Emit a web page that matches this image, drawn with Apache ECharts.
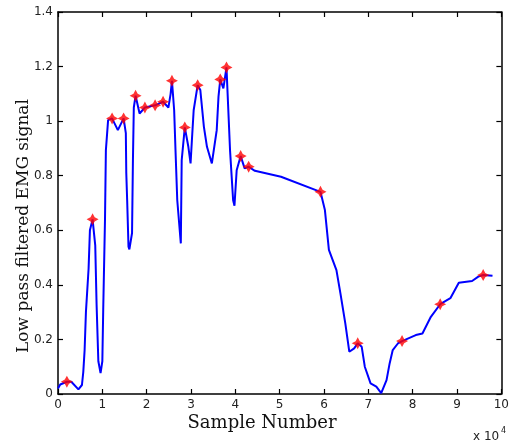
<!DOCTYPE html>
<html>
<head>
<meta charset="utf-8">
<script src="https://cdn.jsdelivr.net/npm/echarts@6/dist/echarts.min.js"></script>
<style>html,body{margin:0;padding:0;background:#fff}#c{width:512px;height:441px}</style>
</head>
<body>
<div id="c"></div>
<script>
var sampleX = [0,0.05,0.2,0.3,0.46,0.54,0.57,0.6,0.63,0.69,0.72,0.78,0.84,0.87,0.91,0.96,1.0,1.02,1.06,1.08,1.13,1.22,1.35,1.48,1.53,1.54,1.56,1.59,1.61,1.67,1.69,1.71,1.75,1.84,1.96,2.19,2.37,2.49,2.54,2.57,2.62,2.65,2.69,2.77,2.79,2.86,2.94,2.99,3.02,3.06,3.15,3.21,3.29,3.36,3.47,3.58,3.62,3.66,3.73,3.80,3.88,3.95,3.98,4.03,4.12,4.21,4.30,4.44,5.03,5.92,6.02,6.11,6.28,6.37,6.48,6.57,6.68,6.76,6.85,6.92,7.05,7.18,7.29,7.41,7.48,7.55,7.67,7.76,8.07,8.22,8.41,8.62,8.85,9.04,9.34,9.48,9.59,9.80];
var signalY = [0.02,0.035,0.045,0.045,0.017,0.033,0.08,0.16,0.30,0.46,0.60,0.64,0.545,0.33,0.12,0.077,0.12,0.31,0.64,0.894,1.004,1.01,0.967,1.01,0.956,0.81,0.71,0.54,0.53,0.59,0.857,1.05,1.093,1.028,1.05,1.058,1.071,1.05,1.10,1.148,1.04,0.894,0.71,0.552,0.857,0.977,0.906,0.845,0.93,1.04,1.132,1.114,0.98,0.906,0.845,0.967,1.09,1.153,1.12,1.197,0.894,0.71,0.69,0.82,0.872,0.827,0.833,0.818,0.796,0.741,0.674,0.528,0.454,0.369,0.259,0.155,0.167,0.186,0.173,0.10,0.039,0.027,0.003,0.051,0.112,0.161,0.186,0.194,0.216,0.222,0.283,0.329,0.351,0.408,0.414,0.43,0.436,0.433];
var peakX = [0.2,0.78,1.22,1.48,1.75,1.96,2.19,2.37,2.57,2.86,3.15,3.66,3.80,4.12,4.30,5.92,6.76,7.76,8.62,9.59];
var peakY = [0.045,0.64,1.01,1.01,1.093,1.05,1.058,1.071,1.148,0.977,1.132,1.153,1.197,0.872,0.833,0.741,0.186,0.194,0.329,0.436];
var xTitle = 'Sample Number';
var yTitle = 'Low pass filtered EMG signal';

var lineData = sampleX.map(function(x,i){return [x, signalY[i]];});
var peakData = peakX.map(function(x,i){return [x, peakY[i]];});

var chart = echarts.init(document.getElementById('c'));
var axisLine = {show:true, onZero:false, lineStyle:{color:'#000', width:1.5}};
var tick = {show:true, inside:true, length:5, lineStyle:{color:'#000', width:1.2}};
var lbl = {color:'#222', fontFamily:'DejaVu Sans', fontSize:12};
var serif = 'DejaVu Serif';
chart.setOption({
  animation:false,
  grid:{left:58, right:5, top:12, bottom:47},
  xAxis:[
    {type:'value', min:0, max:10, interval:1, position:'bottom',
     axisLine:axisLine, axisTick:tick, splitLine:{show:false},
     axisLabel:Object.assign({margin:5}, lbl)},
    {type:'value', min:0, max:10, interval:1, position:'top',
     axisLine:axisLine, axisTick:tick, splitLine:{show:false}, axisLabel:{show:false}}
  ],
  yAxis:[
    {type:'value', min:0, max:1.4, interval:0.2, position:'left',
     axisLine:axisLine, axisTick:tick, splitLine:{show:false},
     axisLabel:Object.assign({margin:5, formatter:function(v){return v===0?'0':(Math.round(v*10)/10).toString();}}, lbl)},
    {type:'value', min:0, max:1.4, interval:0.2, position:'right',
     axisLine:axisLine, axisTick:tick, splitLine:{show:false}, axisLabel:{show:false}}
  ],
  graphic:[
    {type:'text', x:262, y:423, style:{text:xTitle, fontSize:18, fontFamily:serif, fill:'#111', textAlign:'center', textVerticalAlign:'middle'}},
    {type:'text', x:24, y:226, rotation:Math.PI/2, style:{text:yTitle, fontSize:17, fontFamily:serif, fill:'#111', textAlign:'center', textVerticalAlign:'middle'}},
    {type:'text', x:473, y:431, style:{text:'x 10', fontSize:12, fontFamily:'DejaVu Sans', fill:'#222'}},
    {type:'text', x:501, y:427, style:{text:'4', fontSize:8, fontFamily:'DejaVu Sans', fill:'#222'}}
  ],
  series:[
    {type:'line', data:lineData, showSymbol:false, lineStyle:{color:'#0000ff', width:2}, z:2},
    {type:'scatter', data:peakData, symbol:'path://M0,-10 L3.5,-3.5 L10,0 L3.5,3.5 L0,10 L-3.5,3.5 L-10,0 L-3.5,-3.5 Z',
     symbolSize:12, itemStyle:{color:'#ff0000'}, z:3}
  ]
});
</script>
</body>
</html>
